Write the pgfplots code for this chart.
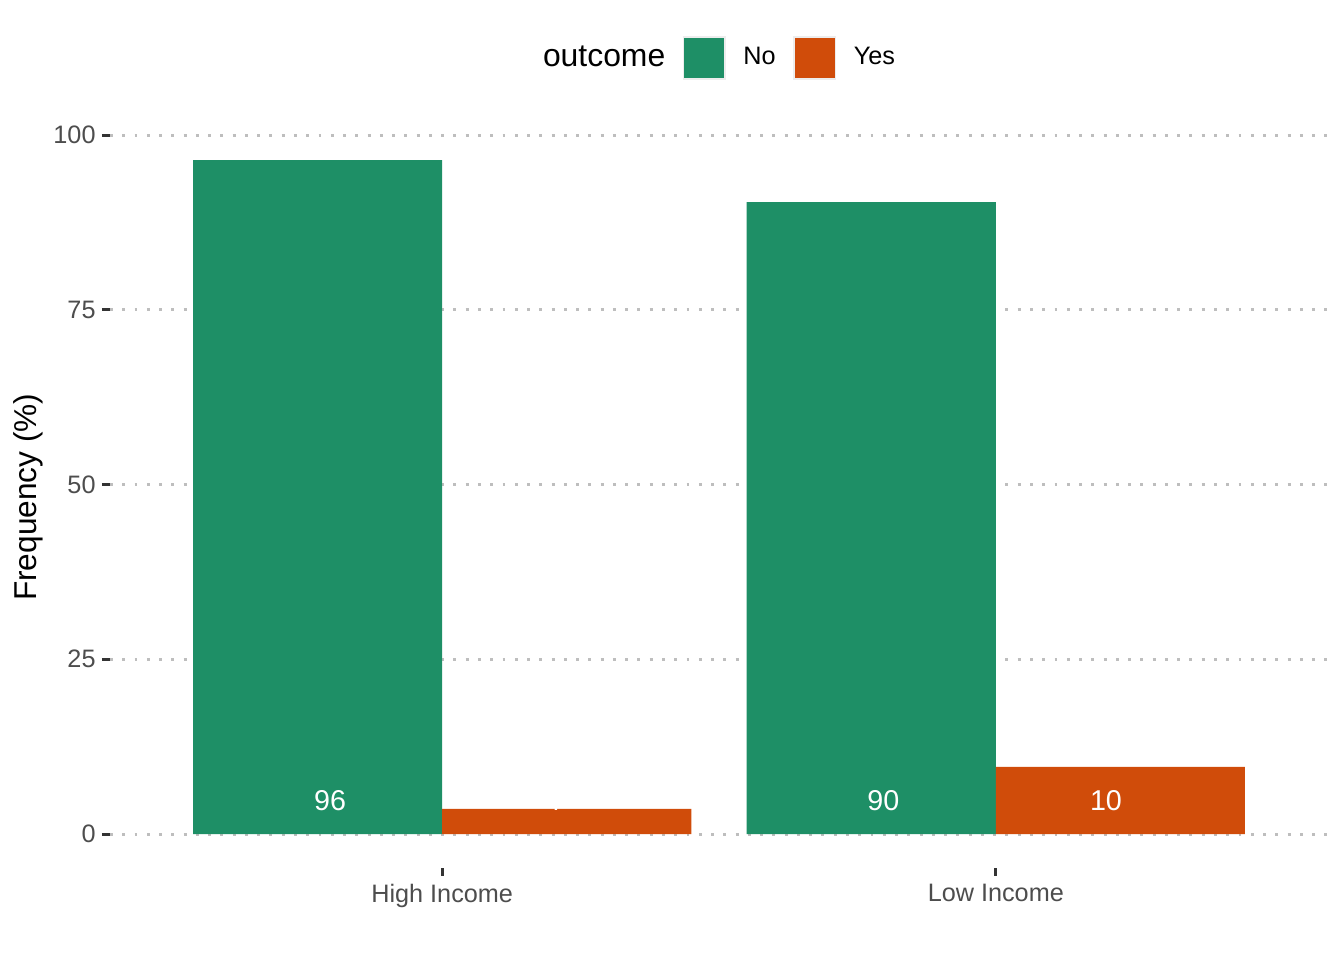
\documentclass[border=0pt]{standalone}
\usepackage{pgfplots}
\pgfplotsset{compat=1.18}
\usepackage{fontspec}
\setmainfont{Liberation Sans}
\definecolor{cNo}{HTML}{1E8F66}
\definecolor{cYes}{HTML}{D04C0A}
\definecolor{gridc}{HTML}{BEBEBE}
\definecolor{tickc}{HTML}{4D4D4D}
\definecolor{tickd}{HTML}{333333}
\begin{document}
\begin{tikzpicture}
\useasboundingbox (-41.25bp,-34.6bp) rectangle (462.75bp,325.4bp);
\begin{axis}[
  at={(0,0)}, anchor=south west,
  scale only axis, width=456.75bp, height=277.9bp,
  xmin=0.4, xmax=2.6, ymin=-4.82, ymax=101.2,
  axis x line=bottom, axis y line=left,
  axis line style={draw=none,-},
  xtick={1,2}, xticklabels={High Income, Low Income},
  ytick={0,25,50,75,100},
  tick align=outside,
  major tick length=3bp,
  tick style={draw=tickd, line width=1.1bp},
  ymajorgrids,
  grid style={gridc, line width=1.1bp, dash pattern=on 1.1bp off 3.5bp},
  tick label style={font=\fontsize{9.5}{11}\selectfont, text=tickc},
  xticklabel style={yshift=0.3bp},
  yticklabel style={xshift=1.1bp},
  /pgf/number format/assume math mode=true,
  ylabel={Frequency (\%)},
  ylabel style={font=\fontsize{11.9}{14}\selectfont, at={(axis description cs:-0.0673,0.5)}, anchor=center},
  legend style={at={(axis description cs:0.5,1)}, anchor=center, yshift=25.8bp, xshift=-3.25bp,
    draw=none, fill=none, legend columns=-1, column sep=6.5bp,
    nodes={inner xsep=0pt, inner ysep=1pt},
    font=\fontsize{9.5}{11}\selectfont},
  legend cell align=left,
]
\addlegendimage{empty legend}
\addlegendentry{\fontsize{12}{14}\selectfont outcome}
\addplot[ybar, bar width=0.45, bar shift=-0.225, fill=cNo, draw=none,
  legend image code/.code={\draw[fill=cNo, draw=black!7, line width=0.7bp] (0bp,-7.8bp) rectangle (15.6bp,7.8bp);}]
  coordinates {(1,96.4) (2,90.4)};
\addlegendentry{No}
\addplot[ybar, bar width=0.45, bar shift=0.225, fill=cYes, draw=none,
  legend image code/.code={\draw[fill=cYes, draw=black!7, line width=0.7bp] (0bp,-7.8bp) rectangle (15.6bp,7.8bp);}]
  coordinates {(1,3.6) (2,9.6)};
\addlegendentry{Yes}
\addplot[only marks, mark=none, forget plot, nodes near coords, point meta=explicit symbolic,
  every node near coord/.append style={font=\fontsize{10.8}{12}\selectfont, text=white, anchor=center, inner sep=0pt}]
  table[meta=lab] {
x y lab
0.7975 4.72 96
1.2 4.72 4
1.797 4.72 90
2.199 4.72 10
};
\end{axis}
\end{tikzpicture}
\end{document}
